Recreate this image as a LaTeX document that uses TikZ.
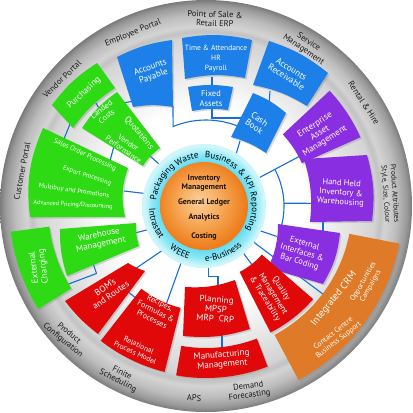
\documentclass[tikz,border=0pt]{standalone}
\usepackage{fontspec}
\setmainfont{PT Sans}
\setsansfont{PT Sans}
\usetikzlibrary{calc,shadows,decorations.text}

\definecolor{boxblue}{RGB}{28,128,232}
\definecolor{boxgreen}{RGB}{45,218,20}
\definecolor{boxpurple}{RGB}{138,46,226}
\definecolor{boxred}{RGB}{224,8,8}
\definecolor{boxorange}{RGB}{222,122,40}
\definecolor{linkblue}{RGB}{22,110,216}
\definecolor{ringdeep}{RGB}{95,215,240}
\definecolor{ringcyan}{RGB}{140,232,246}
\definecolor{ringpale}{RGB}{205,246,250}
\definecolor{corelight}{RGB}{251,208,155}
\definecolor{coremid}{RGB}{246,170,90}
\definecolor{coreorange}{RGB}{238,126,28}
\definecolor{labelgrey}{RGB}{25,25,25}

\pgfdeclareradialshading{discshade}{\pgfpoint{0bp}{0bp}}{%
  color(0bp)=(white); color(12bp)=(white); color(17bp)=(black!10);
  color(20.5bp)=(black!17); color(21.2bp)=(black!24); color(21.8bp)=(black!17);
  color(23.2bp)=(black!26); color(24.4bp)=(black!40); color(25bp)=(black!52); color(50bp)=(black!52)}
\pgfdeclareradialshading{ringshade}{\pgfpoint{0bp}{0bp}}{%
  color(0bp)=(ringdeep); color(17bp)=(ringdeep); color(21bp)=(ringcyan);
  color(24bp)=(ringpale); color(25bp)=(ringpale); color(50bp)=(ringpale)}
\pgfdeclareradialshading{coreshade}{\pgfpoint{-3bp}{3bp}}{%
  color(0bp)=(corelight); color(12bp)=(coremid); color(25bp)=(coreorange); color(50bp)=(coreorange)}

\newcommand\coreringfont{\fontsize{9}{9}\selectfont}
% block with bent outer and inner edge: (outer1)(outer2)(inner2)(inner1){bend}
\def\block[#1](#2)(#3)(#4)(#5)#6{\fill[#1] (#2) to[bend left=#6] (#3) -- (#4) to[bend right=#6] (#5) -- cycle;}
% ring sector round (C): (angle1:angle2:inner radius:outer radius)
\def\sector[#1](#2:#3:#4:#5){\fill[#1] ($(C)+(#2:#5)$) arc[start angle=#2, end angle=#3, radius=#5] -- ($(C)+(#3:#4)$) arc[start angle=#3, end angle=#2, radius=#4] -- cycle;}

\tikzset{
  link/.style={draw=linkblue, line width=1.1pt},
  blockshadow/.style={drop shadow={shadow xshift=1.5pt, shadow yshift=-1.5pt, opacity=.3}},
  bluebox/.style={fill=boxblue, blockshadow},
  greenbox/.style={fill=boxgreen, blockshadow},
  purplebox/.style={fill=boxpurple, blockshadow},
  redbox/.style={fill=boxred, blockshadow},
  orangebox/.style={fill=boxorange, blockshadow},
  boxtext/.style={text=white, align=center, inner sep=0pt, font=\fontsize{9}{9.5}\selectfont},
  salestext/.style={boxtext, font=\fontsize{6.6}{7}\selectfont},
  rimlabel/.style={text=labelgrey, align=center, inner sep=0pt, font=\fontsize{8.5}{9}\selectfont},
  coretext/.style={text=black!85!brown, align=center, inner sep=0pt, font=\bfseries\fontsize{8}{8.6}\selectfont}
}

\begin{document}
\begin{tikzpicture}[x=1pt,y=1pt]
  \useasboundingbox (0,0) rectangle (413,-413);
  \coordinate (C) at (206,-206);
  \coordinate (K) at (204,-206);

  %%%%% DISC %%%%%
  \shade[shading=discshade] (C) circle (206);

  %%%%% LINKS %%%%%
  \coordinate (apB) at (173,-106);
  \coordinate (arcA) at ($(C)+(112.5:86)$);
  \draw[link] (apB) -- (arcA) arc[start angle=112.5, end angle=66, radius=86];
  \coordinate (taB) at (212,-77);  \coordinate (faT) at (212,-89);
  \draw[link] (taB) -- (faT);
  \coordinate (faB) at (212,-109); \coordinate (cbL) at (243,-118);
  \draw[link] (faB) |- (cbL);
  \coordinate (arB) at (270,-91); \coordinate (cbT) at (269,-105);
  \draw[link] (arB) -- (cbT);
  \coordinate (cbB) at (240,-141); \coordinate (ringCB) at ($(K)+(58:60)$);
  \draw[link] (cbB) -- (ringCB);

  \coordinate (ringEA) at ($(C)+(28:61)$);
  \coordinate (eamI) at ($(C)+(28:110)$);
  \coordinate (brR) at ($(C)+(28:78)$);
  \draw[link] (ringEA) -- (eamI);
  \draw[link] (brR) arc[start angle=28, end angle=-15, radius=78];
  \coordinate (hhA) at ($(C)+(2:78)$); \coordinate (hhL) at (312,-203.3);
  \draw[link] (hhA) -- (hhL);
  \coordinate (hhB) at (323,-219); \coordinate (exT) at (323,-233);
  \draw[link] (hhB) -- (exT);
  \coordinate (ringEX) at ($(K)+(-24:60)$); \coordinate (exI) at (277,-236.5);
  \draw[link] (ringEX) -- (exI);
  \coordinate (ringCR) at ($(K)+(-36:60)$); \coordinate (crI) at ($(C)+(-37:149)$);
  \draw[link] (ringCR) -- (crI);
  \coordinate (ringQ) at ($(K)+(-50:60)$); \coordinate (qI) at ($(C)+(-52:77)$);
  \draw[link] (ringQ) -- (qI);
  \coordinate (ringP) at ($(K)+(-86:60)$); \coordinate (plK) at (218,-276.7);
  \coordinate (plT) at (218,-286);
  \draw[link] (ringP) |- (plK) -- (plT);
  \coordinate (plB) at (222,-331); \coordinate (mfT) at (222,-348);
  \draw[link] (plB) -- (mfT);
  \coordinate (ringR) at ($(K)+(-112:60)$); \coordinate (reI) at ($(C)+(248:108)$);
  \draw[link] (ringR) -- (reI);
  \coordinate (ringB) at ($(K)+(-133:60)$); \coordinate (boI) at (135,-269);
  \draw[link] (ringB) -- (boI);
  \coordinate (boR) at (127,-291); \coordinate (reL) at (137,-299);
  \draw[link] (boR) -- (reL);
  \coordinate (ringW) at ($(K)+(-157:60)$); \coordinate (whI) at (135,-233);
  \draw[link] (ringW) -- (whI);
  \coordinate (whB) at (93,-263); \coordinate (whK) at (96.5,-273.5);
  \coordinate (ecI) at (66,-285);
  \draw[link] (whB) -- (whK) -- (ecI);
  \coordinate (ringS) at ($(K)+(168:60)$); \coordinate (saI) at (124,-191);
  \draw[link] (ringS) -- (saI);
  \coordinate (ringV) at ($(K)+(137:60)$); \coordinate (vpI) at (150,-156);
  \draw[link] (ringV) -- (vpI);
  \coordinate (saT) at (110,-161); \coordinate (vpO) at (114,-146);
  \draw[link] (saT) -- (vpO);
  \coordinate (puB) at (96,-103); \coordinate (laO) at (101,-112);
  \draw[link] (puB) -- (laO);
  \coordinate (puS) at (70,-124); \coordinate (saS) at (64,-139);
  \draw[link] (puS) -- (saS);
  \coordinate (laA) at (123,-103); \coordinate (apL) at (134,-101);
  \draw[link] (laA) -- (apL);

  %%%%% CORE %%%%%
  \shade[shading=ringshade] (K) circle (62);
  \shade[shading=coreshade] (K) circle (44);

  \path[decorate, decoration={text along path, text align=center,
    text={|\coreringfont|Packaging Waste}}] ($(K)+(200:48)$) arc[start angle=200, end angle=70, radius=48];
  \path[decorate, decoration={text along path, text align=center,
    text={|\coreringfont|Business {\&} KPI Reporting}}] ($(K)+(115:48)$) arc[start angle=115, end angle=-55, radius=48];
  \path[decorate, decoration={text along path, text align=center,
    text={|\coreringfont|e-Business}}] ($(K)+(240:55)$) arc[start angle=240, end angle=345, radius=55];
  \path[decorate, decoration={text along path, text align=center,
    text={|\coreringfont|WEEE}}] ($(K)+(215:55)$) arc[start angle=215, end angle=270, radius=55];
  \path[decorate, decoration={text along path, text align=center,
    text={|\coreringfont|Intrastat}}] ($(K)+(160:55)$) arc[start angle=160, end angle=240, radius=55];

  \node[coretext] (inv) at (204,-183) {Inventory\\Management};
  \node[coretext] (gl) at (204,-202) {General Ledger};
  \node[coretext] (ana) at (204,-217) {Analytics};
  \node[coretext] (cost) at (204,-236) {Costing};

  %%%%% BLOCKS %%%%%
  \block[bluebox](117,-57)(172,-40)(173,-107)(133,-107){9}
  \block[bluebox](182,-38)(252,-40)(245,-78)(185,-79){11}
  \block[bluebox](188,-87)(233,-87)(228,-110)(192,-111){9}
  \block[bluebox](269,-41)(328,-73)(307,-106)(253,-85){10}
  \block[bluebox](253,-93)(286,-113)(266,-153)(231,-137){9}
  \sector[purplebox](43:24:105:169)
  \block[purplebox](367,-155)(372,-221)(310,-222)(304,-159){11}
  \block[purplebox](340,-233)(323,-284)(268,-268)(278,-224){12}
  \sector[orangebox](-11:-62:146:197)
  \sector[redbox](-41:-63:74:142)
  \block[redbox](250,-329)(183,-336)(185,-287)(235,-280){11}
  \sector[redbox](291:260:142:172)
  \sector[redbox](256:232:105:171)
  \block[redbox](98,-334)(65,-301)(128,-263)(145,-271){7}
  \block[greenbox](67,-276)(60,-229)(136,-223)(139,-246){9}
  \sector[greenbox](211.5:187.5:158:197)
  \block[greenbox](30,-217)(43,-128)(128,-168)(125,-217){15}
  \block[greenbox](52,-105)(97,-63)(115,-88)(73,-128){10}
  \block[greenbox](82,-128)(117,-92)(160,-148)(143,-166){10}

  %%%%% BLOCK TEXTS %%%%%
  \node[boxtext, rotate=20] (apText) at (152,-72) {Accounts\\Payable};
  \node[boxtext, font=\fontsize{7.5}{10}\selectfont] (taText) at (216,-59) {Time \& Attendance\\HR\\Payroll};
  \node[boxtext, font=\fontsize{8.5}{10}\selectfont] (faText) at (211,-99) {Fixed\\Assets};
  \node[boxtext, rotate=-32] (arText) at (289,-73) {Accounts\\Receivable};
  \node[boxtext, rotate=-35] (cbText) at (257,-123) {Cash\\Book};
  \node[boxtext, rotate=32] (eamText) at (320,-133) {Enterprise\\Asset\\Management};
  \node[boxtext, font=\fontsize{8.5}{9.5}\selectfont, rotate=-4] (hhText) at (341,-193) {Hand Held\\Inventory \&\\Warehousing};
  \node[boxtext, font=\fontsize{8.5}{9.5}\selectfont, rotate=-16] (exText) at (302,-253) {External\\Interfaces \&\\Bar Coding};
  \node[boxtext, font=\fontsize{10}{11}\selectfont, rotate=51] (crmText) at (334,-299) {Integrated CRM};
  \node[boxtext, font=\fontsize{7.5}{8.5}\selectfont, rotate=60] (oppText) at (367,-284) {Opportunities\\Campaigns};
  \node[boxtext, font=\fontsize{7.5}{8.5}\selectfont, rotate=38] (ccText) at (336,-337) {Contact Centre\\Business Support};
  \node[boxtext, font=\fontsize{8.5}{9.5}\selectfont, rotate=-58] (qText) at (273,-294) {Quality\\Management\\\& Traceability};
  \node[boxtext, rotate=-4] (plText) at (216,-309) {Planning\\MPSP\\MRP~~CRP};
  \node[boxtext, rotate=5] (mfText) at (222,-360) {Manufacturing\\Management};
  \node[boxtext, font=\fontsize{8}{9}\selectfont, rotate=-27] (reText) at (156,-311) {Recipes,\\Formulas \&\\Processes};
  \node[boxtext, font=\fontsize{7.5}{8.5}\selectfont, rotate=-25] (rpText) at (137,-349) {Relational\\Process Model};
  \node[boxtext, rotate=35] (boText) at (108,-291) {BOM's\\and Routes};
  \node[boxtext, rotate=12] (whText) at (100,-240) {Warehouse\\Management};
  \node[boxtext, rotate=97] (ecText) at (39,-267) {External\\Charging};
  \node[salestext, font=\fontsize{7}{7}\selectfont, rotate=-25] (soText) at (85,-155) {Sales Order Processing};
  \node[salestext, rotate=-18] (epText) at (87,-176) {Export Processing};
  \node[salestext, rotate=-8] (mbText) at (74,-191) {Multibuy and Promotions};
  \node[salestext, font=\fontsize{6.2}{7}\selectfont, rotate=-3] (adText) at (73,-205) {Advanced Pricing/Discounting};
  \node[boxtext, rotate=43] (puText) at (84,-93) {Purchasing};
  \node[boxtext, font=\fontsize{8}{8.5}\selectfont, rotate=37] (laText) at (104,-113) {Landed\\Costs};
  \node[boxtext, font=\fontsize{8.5}{9}\selectfont, rotate=-50] (quText) at (139,-133) {Quotations};
  \node[boxtext, font=\fontsize{7.8}{8.5}\selectfont, rotate=-35] (vpText) at (126,-146) {Vendor\\Performance};

  %%%%% RIM LABELS %%%%%
  \node[rimlabel, rotate=-2] (posLabel) at (215,-19) {Point of Sale \&\\Retail ERP};
  \node[rimlabel, rotate=22] (empLabel) at (133,-33) {Employee Portal};
  \node[rimlabel, rotate=44] (venLabel) at (62,-79) {Vendor Portal};
  \node[rimlabel, rotate=79] (cusLabel) at (22,-171) {Customer Portal};
  \node[rimlabel, rotate=-40] (pcLabel) at (66,-337) {Product\\Configuration};
  \node[rimlabel, rotate=-27] (fsLabel) at (120,-377) {Finite\\Scheduling};
  \node[rimlabel, rotate=-2] (apsLabel) at (194,-398) {APS};
  \node[rimlabel, rotate=8] (dfLabel) at (249,-391) {Demand\\Forecasting};
  \node[rimlabel, rotate=-34] (smLabel) at (306,-46) {Service\\Management};
  \node[rimlabel, rotate=-57] (rhLabel) at (364,-103) {Rental \& Hire};
  \node[rimlabel, font=\fontsize{7.5}{9}\selectfont, rotate=-86] (paLabel) at (390,-194) {Product Attributes\\Style, Size, Colour};
\end{tikzpicture}
\end{document}
